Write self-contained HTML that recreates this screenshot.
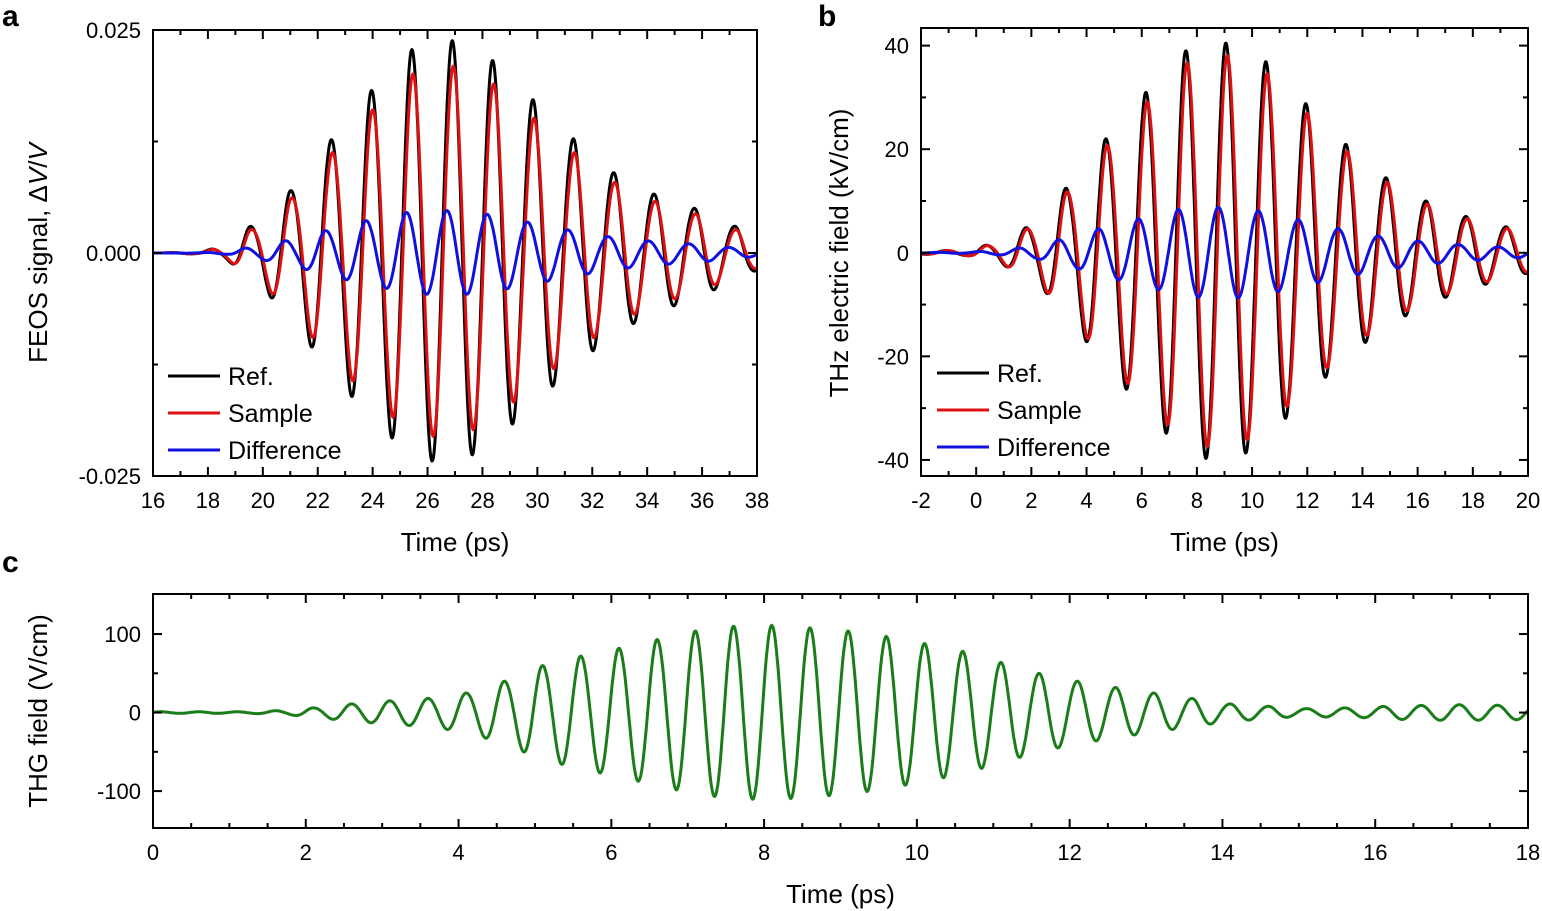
<!DOCTYPE html><html><head><style>body{margin:0;background:#fff}svg{display:block}text{font-family:"Liberation Sans",Arial,sans-serif;fill:#000}</style></head><body>
<svg id="s" width="1542" height="911" xmlns="http://www.w3.org/2000/svg">
<text x="2" y="26" font-size="30" font-weight="bold">a</text>
<text x="818" y="26" font-size="30" font-weight="bold">b</text>
<text x="2" y="572" font-size="30" font-weight="bold">c</text>
<text transform="translate(47,253) rotate(-90)" font-size="26" text-anchor="middle">FEOS signal, Δ<tspan font-style="italic">V</tspan>/<tspan font-style="italic">V</tspan></text>
<g id="g"></g>
</svg>
<script>
var NS="http://www.w3.org/2000/svg",G=document.getElementById("g");
function el(t,a,txt){var e=document.createElementNS(NS,t);for(var k in a)e.setAttribute(k,a[k]);if(txt!=null)e.textContent=txt;G.appendChild(e);return e;}
function interp(pts,t){if(t<=pts[0][0])return pts[0][1];for(var i=1;i<pts.length;i++){if(t<=pts[i][0]){var a=pts[i-1],b=pts[i];var f=(t-a[0])/(b[0]-a[0]);f=(1-Math.cos(Math.PI*f))/2;return a[1]+(b[1]-a[1])*f;}}return pts[pts.length-1][1];}
function panel(o){
 var X=function(v){return o.x0+(v-o.xa)/(o.xb-o.xa)*(o.x1-o.x0)},Y=function(v){return o.y1-(v-o.ya)/(o.yb-o.ya)*(o.y1-o.y0)};
 o.series.forEach(function(s){var d="";for(var t=o.xa;t<=o.xb+1e-9;t+=(o.xb-o.xa)/1500){var y=s.f(t);d+=(d?"L":"M")+X(t).toFixed(1)+" "+Y(y).toFixed(1);}el("path",{d:d,fill:"none",stroke:s.c,"stroke-width":s.w||3,"stroke-linejoin":"round"});});
 el("rect",{x:o.x0,y:o.y0,width:o.x1-o.x0,height:o.y1-o.y0,fill:"none",stroke:"#000","stroke-width":2});
 for(var v=o.xa;v<=o.xb+1e-9;v+=o.xminor){var px=X(v);var maj=Math.abs(Math.round(v/o.xmaj)*o.xmaj-v)<1e-6;var L=maj?9:5;
  el("line",{x1:px,y1:o.y1,x2:px,y2:o.y1-L,stroke:"#000","stroke-width":2});el("line",{x1:px,y1:o.y0,x2:px,y2:o.y0+L,stroke:"#000","stroke-width":2});
  if(maj)el("text",{x:px,y:o.y1+32,"font-size":22,"text-anchor":"middle"},Math.round(v));}
 o.yt.forEach(function(t){var py=Y(t[0]);var L=t[1]?9:5;el("line",{x1:o.x0,y1:py,x2:o.x0+L,y2:py,stroke:"#000","stroke-width":2});el("line",{x1:o.x1,y1:py,x2:o.x1-L,y2:py,stroke:"#000","stroke-width":2});
  if(t[1])el("text",{x:o.x0-12,y:py+8,"font-size":22,"text-anchor":"end"},t[1]);});
 el("text",{x:(o.x0+o.x1)/2,y:o.y1+75,"font-size":26,"text-anchor":"middle"},"Time (ps)");
}
function wave(env,t0,T,sc,dl){return function(t){return sc*interp(env,t)*Math.cos(2*Math.PI*(t-t0-dl)/T);};}
var ea=[[16,0],[17.5,0.0001],[18.5,0.0006],[19.6,0.003],[21,0.007],[22.3,0.0125],[23.9,0.0182],[25.4,0.0228],[26.9,0.0238],[28.3,0.0216],[29.8,0.0172],[31.3,0.0128],[32.8,0.009],[34.3,0.0066],[35.8,0.005],[37.2,0.003],[38,0.002]];
var ra=wave(ea,26.9,1.47,1,0),sa=wave(ea,26.9,1.47,0.88,0.04);
panel({x0:153,x1:757,y0:30,y1:476,xa:16,xb:38,ya:-0.025,yb:0.025,xminor:1,xmaj:2,
 yt:[[0.025,"0.025"],[0.0125,""],[0,"0.000"],[-0.0125,""],[-0.025,"-0.025"]],
 series:[{c:"#000",f:ra},{c:"#e01010",f:sa},{c:"#1010e0",f:function(t){return ra(t)-sa(t)}}]});
var eb=[[-2,0.3],[-0.5,0.5],[0.5,1.5],[2,5],[3.3,12.5],[4.7,22],[6.2,31],[7.6,39],[9.1,40.5],[10.4,37],[11.8,29],[13.3,21],[14.8,14.5],[16.3,10],[17.8,7],[19.2,5],[20,4]];
var rb=wave(eb,9.05,1.45,1,0),sb=wave(eb,9.05,1.45,0.94,0.05);
panel({x0:921,x1:1528,y0:28,y1:476,xa:-2,xb:20,ya:-43.1,yb:43.4,xminor:1,xmaj:2,
 yt:[[40,"40"],[30,""],[20,"20"],[10,""],[0,"0"],[-10,""],[-20,"-20"],[-30,""],[-40,"-40"]],
 series:[{c:"#000",f:rb},{c:"#e01010",f:sb},{c:"#1010e0",f:function(t){return rb(t)-sb(t)}}]});
var ec=[[0,1],[1.2,1],[1.7,2.5],[2.1,6],[2.6,11],[3.1,15],[3.6,18],[4.1,25],[4.6,40],[5.1,60],[5.6,72],[6.1,82],[6.6,93],[7.1,104],[7.6,110],[8.1,111],[8.6,108],[9.1,104],[9.6,97],[10.1,88],[10.6,78],[11.1,64],[11.6,50],[12.1,40],[12.6,32],[13.1,25],[13.6,18],[14.1,11],[14.6,8],[15,5],[15.6,6],[16.5,9],[17,10],[18,9]];
panel({x0:153,x1:1528,y0:594,y1:828,xa:0,xb:18,ya:-147,yb:151,xminor:0.5,xmaj:2,
 yt:[[100,"100"],[50,""],[0,"0"],[-50,""],[-100,"-100"]],
 series:[{c:"#1a7d1a",f:wave(ec,8.1,0.5,1,0)}]});
el("text",{transform:"translate(848,253) rotate(-90)","font-size":26,"text-anchor":"middle"},"THz electric field (kV/cm)");
el("text",{transform:"translate(47,711) rotate(-90)","font-size":26,"text-anchor":"middle"},"THG field (V/cm)");
function leg(x,y){[["#000","Ref."],["#e01010","Sample"],["#1010e0","Difference"]].forEach(function(a,i){var yy=y+i*37;el("line",{x1:x,y1:yy,x2:x+52,y2:yy,stroke:a[0],"stroke-width":3});el("text",{x:x+60,y:yy+9,"font-size":25},a[1]);});}
leg(168,376);leg(937,373);
</script>
</body></html>
